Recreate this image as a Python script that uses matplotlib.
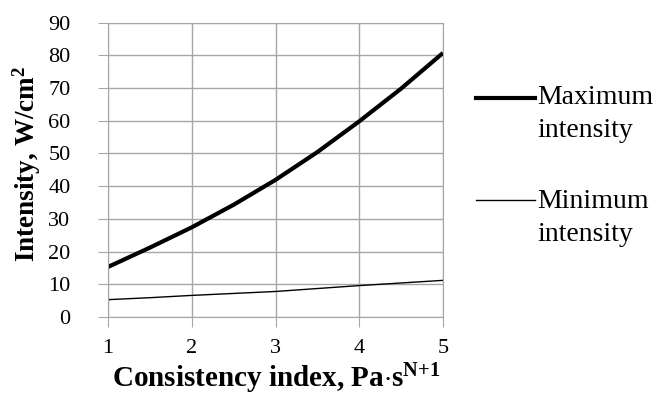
import matplotlib
matplotlib.use("Agg")
import matplotlib.pyplot as plt
from matplotlib.lines import Line2D

plt.rcParams["font.family"] = ["Liberation Serif", "DejaVu Serif"]
plt.rcParams["mathtext.fontset"] = "custom"
plt.rcParams["mathtext.rm"] = "Liberation Serif:bold"
plt.rcParams["mathtext.it"] = "Liberation Serif:bold"
plt.rcParams["mathtext.bf"] = "Liberation Serif:bold"

# consistency index values and read-off intensities
consistency = [1, 1.5, 2, 2.5, 3, 3.5, 4, 4.5, 5]
max_intensity = [15.3, 21.2, 27.4, 34.3, 41.9, 50.4, 59.8, 69.8, 80.7]
min_intensity = [5.3, 5.9, 6.6, 7.2, 7.8, 8.7, 9.6, 10.4, 11.2]

x_ticks = [1, 2, 3, 4, 5]
y_ticks = list(range(0, 91, 10))
legend_labels = [("Maximum", "intensity"), ("Minimum", "intensity")]

W, H = 669, 397
fig = plt.figure(figsize=(W / 100, H / 100), dpi=100)
ax = fig.add_axes([108 / W, 1 - 317 / H, 335 / W, 294.5 / H])

grid_col = "#a6a6a6"
ax.plot(consistency, max_intensity, color="black", lw=3.0, solid_capstyle="butt")
ax.plot(consistency, min_intensity, color="black", lw=1.0)

ax.set_xlim(1, 5)
ax.set_ylim(0, 90)
ax.set_xticks(x_ticks)
ax.set_yticks(y_ticks)
ax.grid(True, color=grid_col, lw=1.0)
ax.set_axisbelow(True)
for sp in ax.spines.values():
    sp.set_color(grid_col)
ax.tick_params(direction="out", length=7, color=grid_col, labelsize=16)
ax.tick_params(axis="y", pad=20)
ax.tick_params(axis="x", pad=9)

fig.text(27 / W, 1 - 164 / H, r"Intensity, W/cm$^{2}$", rotation=90,
         ha="center", va="center", fontsize=19.5, fontweight="bold")
fig.text(276 / W, 1 - 387 / H, r"Consistency index, Pa$\cdot$s$^{N{+}1}$",
         ha="center", va="baseline", fontsize=21, fontweight="bold")

# legend drawn by hand so the handle sits beside the first text line
handles = [(98, 3.0), (200, 1.0)]
baselines = [104, 208]
for (hy, lw), base, (l1, l2) in zip(handles, baselines, legend_labels):
    fig.add_artist(Line2D([476 / W, 535 / W], [1 - hy / H, 1 - hy / H],
                          color="black", lw=lw, transform=fig.transFigure))
    fig.text(537 / W, 1 - base / H, l1, fontsize=20, va="baseline")
    fig.text(537 / W, 1 - (base + 33) / H, l2, fontsize=20, va="baseline")

fig.savefig("out.png", dpi=100)
